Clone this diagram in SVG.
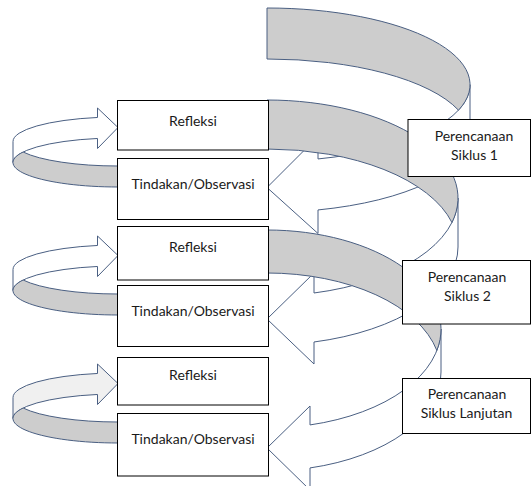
<svg xmlns="http://www.w3.org/2000/svg" width="531" height="486" viewBox="0 0 531 486">
<style>
.sh{stroke:#4a5f82;stroke-width:1;stroke-linejoin:round}
.lt{fill:#ffffff}
.dk{fill:#cdcdcd}
.lt3{fill:#f0f0f0}
.bx{fill:#ffffff;stroke:#000000;stroke-width:1}
.t{font-family:Lato,"Open Sans","Liberation Sans",sans-serif;font-size:14px;fill:#1a1a1a;text-anchor:middle}
</style>
<rect width="531" height="486" fill="#ffffff"/>
<g id="connectors">
  <g id="spiral-1">
    <path class="sh lt" d="M470,84.7 A203 76.7 0 0 1 318,158.94 L318,136.5 L267,187.5 L318,233.5 L318,209.94 A203 76.7 0 0 0 470,135.7 Z"/>
    <path class="sh dk" d="M267,8 A203 76.7 0 0 1 458.5,110.2 A203 76.7 0 0 0 267,59 Z"/>
  </g>
  <g id="spiral-2">
    <path class="sh lt" d="M458,198 A191 98 0 0 1 314,292.99 L314,273 L267,319 L314,364 L314,341.99 A191 98 0 0 0 458,247 Z"/>
    <path class="sh dk" d="M267,100 A191 98 0 0 1 451.94,222.5 A191 98 0 0 0 267,149 Z"/>
  </g>
  <g id="spiral-3">
    <path class="sh lt" d="M441,329 A174 99 0 0 1 310,424.93 L310,406 L267,448 L310,490 L310,467.93 A174 99 0 0 0 441,372 Z"/>
    <path class="sh dk" d="M267,230 A174 99 0 0 1 436.85,350.5 A174 99 0 0 0 267,273 Z"/>
  </g>
  <g id="loop-1">
    <path class="sh lt" d="M13,162.5 A105 24.5 0 0 1 97.5,138.47 L97.5,148.5 L118,127.5 L97.5,108 L97.5,117.47 A105 24.5 0 0 0 13,141.5 Z"/>
    <path class="sh dk" d="M118,187 A105 24.5 0 0 1 23.1,152 A105 24.5 0 0 0 118,166 Z"/>
  </g>
  <g id="loop-2">
    <path class="sh lt" d="M13,290.5 A105 24.5 0 0 1 97.5,266.47 L97.5,276.5 L118,255.5 L97.5,236 L97.5,245.47 A105 24.5 0 0 0 13,269.5 Z"/>
    <path class="sh dk" d="M118,315 A105 24.5 0 0 1 23.1,280 A105 24.5 0 0 0 118,294 Z"/>
  </g>
  <g id="loop-3">
    <path class="sh lt3" d="M13,418.5 A105 24.5 0 0 1 97.5,394.47 L97.5,404.5 L118,383.5 L97.5,364 L97.5,373.47 A105 24.5 0 0 0 13,397.5 Z"/>
    <path class="sh dk" d="M118,443 A105 24.5 0 0 1 23.1,408 A105 24.5 0 0 0 118,422 Z"/>
  </g>
</g>
<g id="refleksi-1"><rect class="bx" x="117.5" y="100.5" width="151" height="49.5"/><text class="t" x="193" y="126">Refleksi</text></g>
<g id="tindakan-1"><rect class="bx" x="117.5" y="158.5" width="151" height="61"/><text class="t" x="193" y="188.5">Tindakan/Observasi</text></g>
<g id="refleksi-2"><rect class="bx" x="117.5" y="226.5" width="151" height="53.5"/><text class="t" x="193" y="251.5">Refleksi</text></g>
<g id="tindakan-2"><rect class="bx" x="117.5" y="285.5" width="151" height="61"/><text class="t" x="193" y="316">Tindakan/Observasi</text></g>
<g id="refleksi-3"><rect class="bx" x="117.5" y="357.5" width="151" height="47.5"/><text class="t" x="193" y="380">Refleksi</text></g>
<g id="tindakan-3"><rect class="bx" x="117.5" y="413.5" width="151" height="62.5"/><text class="t" x="193" y="443.5">Tindakan/Observasi</text></g>
<g id="perencanaan-1"><rect class="bx" x="408" y="119.5" width="122.5" height="57"/><text class="t" x="474" y="140.5">Perencanaan</text><text class="t" x="474.5" y="160">Siklus 1</text></g>
<g id="perencanaan-2"><rect class="bx" x="402.5" y="260.5" width="128" height="63.5"/><text class="t" x="467" y="281.5">Perencanaan</text><text class="t" x="467.5" y="301">Siklus 2</text></g>
<g id="perencanaan-3"><rect class="bx" x="402.5" y="378.5" width="128" height="55"/><text class="t" x="467" y="398.5">Perencanaan</text><text class="t" x="466.5" y="417.5">Siklus Lanjutan</text></g>
</svg>
